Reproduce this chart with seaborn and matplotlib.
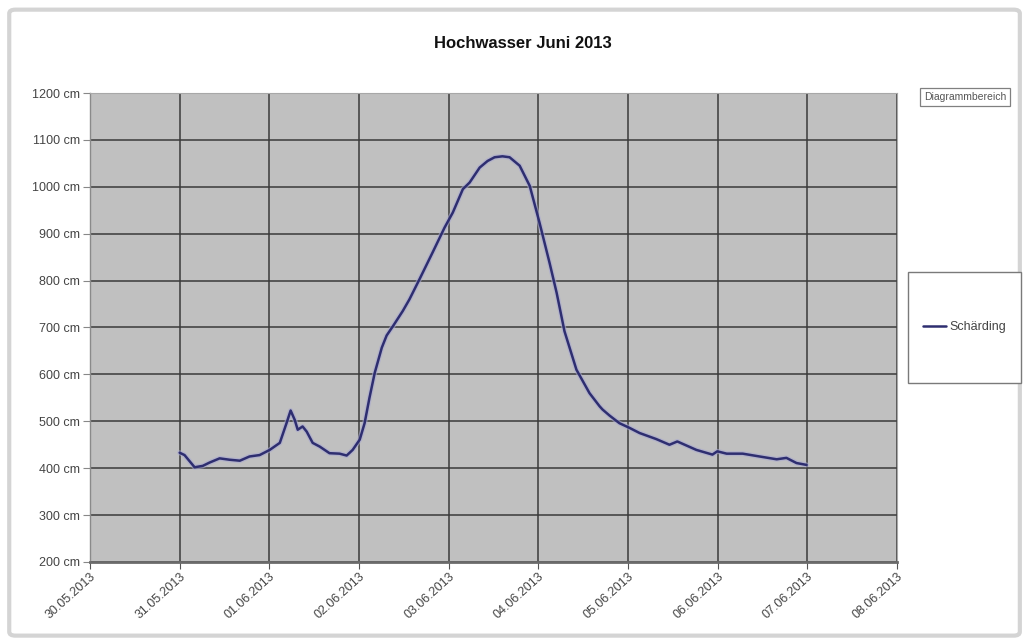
import matplotlib
matplotlib.use("Agg")
import matplotlib.pyplot as plt
import matplotlib.dates as mdates
from matplotlib.patches import FancyBboxPatch, Rectangle
import numpy as np
import pandas as pd
import seaborn as sns

# ---- data (hours after 31.05.2013 00:00, water level in cm) ----
hours = [0, 1.3, 4.0, 6.2, 8.0, 10.7, 13.4, 16.1, 18.7, 21.4, 24.1, 26.8, 28.6, 29.7,
         30.8, 31.6, 32.9, 34.0, 35.6, 37.5, 40.1, 42.8, 44.7, 46.3, 48.2,
         49.5, 50.8, 52.2, 54.1, 55.4, 57.1, 59.7, 61.5, 64.2, 67.7, 70.9, 73.1, 75.8,
         77.6, 80.3, 82.4, 84.3, 86.4, 88.3, 91.0, 93.7, 96.3, 99.0, 100.9, 103.0, 106.2,
         109.7, 112.4, 113.2, 115.1, 117.7, 120.4, 123.1, 127.6, 131.1, 133.2,
         138.3, 142.6, 143.9, 146.4, 150.7, 155.2, 159.8, 162.4, 165.1, 167.8]
levels = [433, 428, 402, 405, 412, 421, 418, 416, 425, 428, 439, 454, 496, 523,
          503, 482, 489, 478, 454, 446, 432, 431, 427, 439, 461,
          496, 550, 603, 657, 683, 703, 735, 760, 803, 860, 913, 945, 995,
          1009, 1041, 1055, 1063, 1065, 1063, 1045, 1002, 924, 838, 774, 692, 610,
          560, 532, 525, 512, 496, 486, 475, 462, 450, 457,
          439, 429, 436, 431, 431, 425, 419, 422, 411, 407]
series_name = "Schärding"
title = "Hochwasser Juni 2013"
y_ticks = [200, 300, 400, 500, 600, 700, 800, 900, 1000, 1100, 1200]
x_start = "2013-05-30"
x_end = "2013-06-08"

df = pd.DataFrame({
    "Zeit": pd.Timestamp("2013-05-31") + pd.to_timedelta(hours, unit="h"),
    "Pegel": levels,
    "Station": series_name,
})

sns.set_style("white")
plt.rcParams["font.family"] = ["Liberation Sans", "DejaVu Sans"]

fig = plt.figure(figsize=(10.26, 6.44), dpi=100)
fig.patch.set_facecolor("white")

# outer chart frame
frame = FancyBboxPatch((0.009, 0.013), 0.985, 0.972, boxstyle="round,pad=0,rounding_size=0.006",
                       transform=fig.transFigure, facecolor="none", edgecolor="#d4d4d4",
                       linewidth=3, zorder=-5)
fig.patches.append(frame)

# legend box
legbox = Rectangle((908 / 1026, 1 - 383 / 644), 113 / 1026, 111 / 644,
                   transform=fig.transFigure, facecolor="white", edgecolor="#7a7a7a",
                   linewidth=1.0, zorder=-4)
fig.patches.append(legbox)

ax = fig.add_axes([90 / 1026, 82 / 644, 807 / 1026, 469 / 644])
ax.set_facecolor("#c0c0c0")

# soft halo under the line
sns.lineplot(data=df, x="Zeit", y="Pegel", color="#a8a8d0", linewidth=3.6,
             ax=ax, legend=False, zorder=2, alpha=0.6,
             solid_joinstyle="round", solid_capstyle="round")
sns.lineplot(data=df, x="Zeit", y="Pegel", hue="Station", palette=["#2e2e70"],
             linewidth=1.8, ax=ax, legend=True, zorder=3,
             solid_joinstyle="round", solid_capstyle="round")

ax.set_xlim(pd.Timestamp(x_start), pd.Timestamp(x_end))
ax.set_ylim(y_ticks[0], y_ticks[-1])
ax.set_yticks(y_ticks)
ax.set_yticklabels([f"{v} cm" for v in y_ticks])
ax.xaxis.set_major_locator(mdates.DayLocator())
ax.xaxis.set_major_formatter(mdates.DateFormatter("%d.%m.%Y"))
ax.set_xlabel("")
ax.set_ylabel("")

ax.grid(True, color="#3a3a3a", linewidth=1.1)
ax.set_axisbelow(True)

for side in ["top", "right"]:
    ax.spines[side].set_color("#a8a8a8")
    ax.spines[side].set_linewidth(0.8)
ax.spines["left"].set_color("#8a8a8a")
ax.spines["left"].set_linewidth(1.0)
ax.spines["bottom"].set_color("#6a6a6a")
ax.spines["bottom"].set_linewidth(2.0)

ax.tick_params(axis="y", which="major", direction="out", length=5, width=0.8,
               color="#888888", labelsize=9, labelcolor="#444444", pad=2, left=True)
ax.tick_params(axis="x", which="major", direction="out", length=5, width=0.8,
               color="#555555", labelsize=9, labelcolor="#444444", pad=1, bottom=True)
for lbl in ax.get_xticklabels():
    lbl.set_rotation(42)
    lbl.set_ha("right")
    lbl.set_rotation_mode("anchor")

# legend on the right
handles, labels = ax.get_legend_handles_labels()
ax.legend(handles, labels, loc="center left",
          bbox_to_anchor=(920 / 1026, 1 - 327 / 644), bbox_transform=fig.transFigure,
          frameon=False, fontsize=9,
          handlelength=1.9, handletextpad=0.25, borderpad=0.2, borderaxespad=0,
          labelcolor="#444444")

fig.text(0.51, 1 - 43 / 644, title, ha="center", va="center", fontsize=12,
         fontweight="bold", color="#111111")

fig.text(965 / 1026, 1 - 97 / 644, "Diagrammbereich", ha="center", va="center",
         fontsize=7.5, color="#555555",
         bbox=dict(boxstyle="square,pad=0.35", facecolor="white", edgecolor="#808080",
                   linewidth=0.9))

fig.savefig("out.png", dpi=100, facecolor="white")
